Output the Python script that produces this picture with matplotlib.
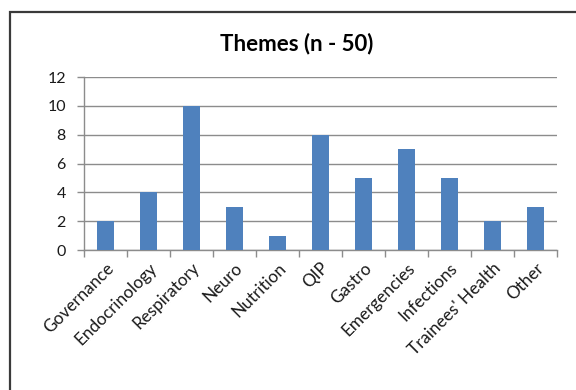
import numpy as np
import matplotlib
matplotlib.use("Agg")
import matplotlib.pyplot as plt
from matplotlib.patches import Rectangle

# data
themes = ["Governance", "Endocrinology", "Respiratory", "Neuro", "Nutrition", "QIP",
          "Gastro", "Emergencies", "Infections", "Trainees' Health", "Other"]
counts = [2, 4, 10, 3, 1, 8, 5, 7, 5, 2, 3]
yticks = [0, 2, 4, 6, 8, 10, 12]

plt.rcParams['font.family'] = ['Lato', 'DejaVu Sans']

fig = plt.figure(figsize=(5.76, 3.9), dpi=100)

# chart frame (cut off at right and bottom like the screenshot)
frame = Rectangle((10 / 576, -0.1), 1.0, 1 - 12 / 390 + 0.1, transform=fig.transFigure,
                  fill=False, edgecolor="#3a3a3a", linewidth=1.6)
fig.patches.append(frame)

ax = fig.add_axes([84 / 576, 1 - 250 / 390, (557 - 84) / 576, (250 - 77) / 390])
x = np.arange(len(themes))
ax.bar(x, counts, width=0.4, color="#4F81BD", zorder=3)

ax.set_xlim(-0.5, len(themes) - 0.5)
ax.set_ylim(0, 12)
ax.set_yticks(yticks)
ax.yaxis.grid(True, color="#8c8c8c", linewidth=1.0, zorder=0)

# ticks between categories
ax.set_xticks(np.arange(-0.5, len(themes)), minor=False)
ax.set_xticklabels([])
ax.set_xticks(x, minor=True)
ax.set_xticklabels(themes, minor=True, rotation=45, ha="right", va="top",
                   rotation_mode="anchor", fontsize=12.3, color="#1a1a1a")
ax.tick_params(axis="x", which="minor", length=0, pad=7)
ax.tick_params(axis="x", which="major", length=5, color="#8c8c8c", width=1)
ax.tick_params(axis="y", length=5, color="#8c8c8c", width=1, labelsize=11.5,
               pad=8, labelcolor="#1a1a1a")

for s in ["top", "right"]:
    ax.spines[s].set_visible(False)
for s in ["left", "bottom"]:
    ax.spines[s].set_color("#8c8c8c")
    ax.spines[s].set_linewidth(1)

fig.text(297 / 576, 1 - 44 / 390, "Themes (n - 50)", ha="center", va="center",
         fontsize=16, fontweight="bold")

fig.savefig("out.png", dpi=100)
